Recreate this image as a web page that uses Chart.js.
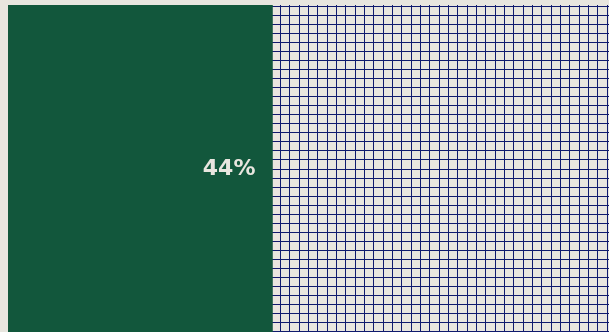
<!DOCTYPE html>
<html>
<head>
<meta charset="utf-8">
<script src="https://cdn.jsdelivr.net/npm/chart.js@4"></script>
<style>
  html, body { margin: 0; padding: 0; background: #e8e6df; overflow: hidden; }
  #wrap { width: 609px; height: 332px; }
</style>
</head>
<body>
<div id="wrap"><canvas id="chart"></canvas></div>
<script>
// share of the whole, in percent
const categories = ['Podíl'];
const filledValues = [44];
const restValues = [56];
const valueLabels = ['44%'];

// squared paper behind the bar: column and row lines
const gridColumns = [];
for (let k = -29; k <= 35; k++) gridColumns.push(k);
const gridRows = 35;

const GREEN = '#12573c';
const NAVY = '#0f1a6e';
const PAPER = '#e8e6df';

// writes the percentage inside the filled bar, near its end
const valueLabel = {
    id: 'valueLabel',
    afterDatasetsDraw(chart) {
        const ctx = chart.ctx;
        const meta = chart.getDatasetMeta(0);
        meta.data.forEach((bar, i) => {
            ctx.save();
            ctx.font = 'bold 22px "DejaVu Sans"';
            ctx.fillStyle = PAPER;
            ctx.textAlign = 'right';
            ctx.textBaseline = 'middle';
            ctx.fillText(valueLabels[i], bar.x - 17, bar.y + 1);
            ctx.restore();
        });
    }
};

new Chart(document.getElementById('chart'), {
    type: 'bar',
    data: {
        labels: categories,
        datasets: [
            {
                data: filledValues,
                backgroundColor: GREEN,
                borderWidth: 0,
                barPercentage: 1,
                categoryPercentage: 1
            },
            {
                data: restValues,
                backgroundColor: 'rgba(0,0,0,0)',
                borderWidth: 0,
                barPercentage: 1,
                categoryPercentage: 1
            }
        ]
    },
    options: {
        indexAxis: 'y',
        responsive: true,
        maintainAspectRatio: false,
        animation: false,
        layout: { padding: { top: 5, left: 8, right: 0, bottom: 0 } },
        plugins: { legend: { display: false }, tooltip: { enabled: false } },
        scales: {
            x: { stacked: true, min: 0, max: 100, display: false },
            y: { stacked: true, display: false },
            xGrid: {
                type: 'linear',
                axis: 'x',
                position: 'bottom',
                min: -29.23,
                max: 35.2,
                afterBuildTicks: (scale) => {
                    scale.ticks = gridColumns.map(v => ({ value: v }));
                },
                ticks: { display: false },
                border: { display: false },
                grid: { color: NAVY, lineWidth: 1, drawTicks: false }
            },
            yGrid: {
                type: 'linear',
                axis: 'y',
                position: 'left',
                min: 0,
                max: gridRows + 0.12,
                afterBuildTicks: (scale) => {
                    const t = [];
                    for (let r = 0; r <= gridRows; r++) t.push({ value: r });
                    scale.ticks = t;
                },
                ticks: { display: false },
                border: { display: false },
                grid: { color: NAVY, lineWidth: 1, drawTicks: false }
            }
        }
    },
    plugins: [valueLabel]
});
</script>
</body>
</html>
